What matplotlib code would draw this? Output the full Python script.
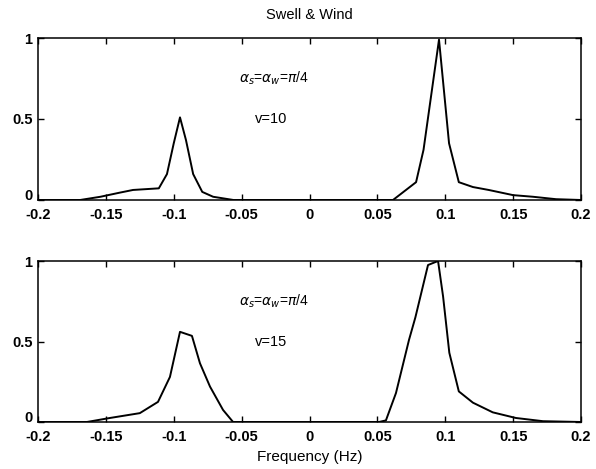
import numpy as np
import matplotlib.pyplot as plt

plt.rcParams['font.family'] = ['Liberation Sans', 'DejaVu Sans']

# spectra (frequency in Hz, normalised amplitude)
f_top = [-0.2, -0.169, -0.154, -0.14, -0.13, -0.111, -0.105, -0.100, -0.0954,
         -0.091, -0.0857, -0.079, -0.071, -0.056, 0.0, 0.0615, 0.0785, 0.084,
         0.0954, 0.1028, 0.110, 0.1204, 0.132, 0.150, 0.1646, 0.1816, 0.2]
s_top = [0.0, 0.0, 0.02, 0.045, 0.062, 0.072, 0.16, 0.35, 0.51,
         0.37, 0.16, 0.05, 0.02, 0.0, 0.0, 0.0, 0.11, 0.31,
         0.99, 0.35, 0.11, 0.08, 0.062, 0.03, 0.02, 0.005, 0.0]

f_bot = [-0.2, -0.164, -0.147, -0.125, -0.1116, -0.1028, -0.0954, -0.0866,
         -0.0807, -0.0733, -0.0637, -0.0563, 0.0, 0.0512, 0.0563, 0.0637,
         0.0733, 0.078, 0.0873, 0.0947, 0.0984, 0.103, 0.110, 0.1204, 0.135,
         0.152, 0.172, 0.2]
s_bot = [0.0, 0.0, 0.025, 0.055, 0.125, 0.28, 0.56, 0.535,
         0.365, 0.22, 0.075, 0.0, 0.0, 0.0, 0.01, 0.18,
         0.51, 0.65, 0.975, 1.0, 0.78, 0.43, 0.19, 0.12, 0.06,
         0.025, 0.005, 0.0]

xticks = [-0.2, -0.15, -0.1, -0.05, 0, 0.05, 0.1, 0.15, 0.2]
xlabels = ['-0.2', '-0.15', '-0.1', '-0.05', '0', '0.05', '0.1', '0.15', '0.2']
yticks = [0, 0.5, 1]
ylabels = ['0', '0.5', '1']

fig = plt.figure(figsize=(5.96, 4.69), dpi=100)
W, H = 596, 469
ax1 = fig.add_axes([38 / W, 1 - 200 / H, 543 / W, 162 / H])
ax2 = fig.add_axes([38 / W, 1 - 422 / H, 543 / W, 161 / H])

panels = [(ax1, f_top, s_top, 'v=10'), (ax2, f_bot, s_bot, 'v=15')]
for ax, f, s, vtxt in panels:
    ax.plot(f, s, color='black', lw=1.4)
    ax.set_xlim(-0.2, 0.2)
    ax.set_ylim(0, 1)
    ax.set_xticks(xticks)
    ax.set_xticklabels(xlabels)
    ax.set_yticks(yticks)
    ax.set_yticklabels(ylabels)
    ax.tick_params(direction='in', top=True, right=True, length=4,
                   labelsize=10.5, width=1)
    ax.tick_params(axis='x', pad=6)
    ax.tick_params(axis='y', pad=4)
    for sp in ax.spines.values():
        sp.set_linewidth(1.1)
    for lab in ax.get_xticklabels() + ax.get_yticklabels():
        lab.set_fontweight('bold')
    # lift the "0" label a little so it clears the x tick labels
    ax.get_yticklabels()[0].set_va('baseline')
    ax.text(-0.052, 0.75, r'$\alpha_s$=$\alpha_w$=$\pi$/4', fontsize=10,
            ha='left', va='center')
    ax.text(-0.04, 0.5, vtxt, fontsize=10.5, ha='left', va='center')

ax1.set_title('Swell & Wind', fontsize=10.5, pad=14)
ax2.set_xlabel('Frequency (Hz)', fontsize=11, labelpad=4)

fig.savefig('out.png', dpi=100)
